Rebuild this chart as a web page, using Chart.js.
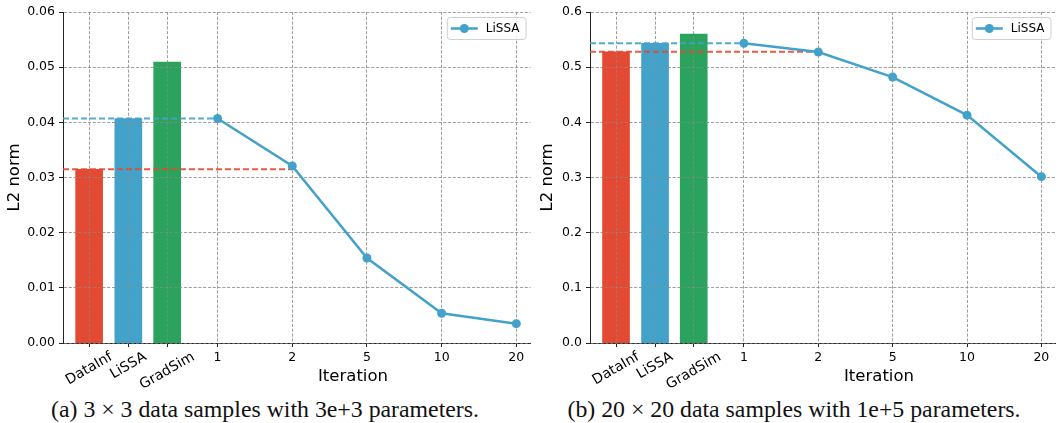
<!DOCTYPE html>
<html>
<head>
<meta charset="utf-8">
<script src="https://cdn.jsdelivr.net/npm/chart.js@4.4.1/dist/chart.umd.min.js"></script>
<style>
  body { margin: 0; background: #fff; width: 1060px; height: 423px; position: relative; overflow: hidden; }
  canvas { position: absolute; top: 0; }
  #chart-a { left: 0; }
  #chart-b { left: 535px; }
  .xlabel { position: absolute; font-family: "DejaVu Sans"; font-size: 16.5px; color: #000; transform: translateX(-50%); white-space: nowrap; }
  .caption { position: absolute; font-family: "Liberation Serif"; font-size: 23.8px; color: #111; transform: translateX(-50%); white-space: nowrap; }
</style>
</head>
<body>
<canvas id="chart-a" width="535" height="395"></canvas>
<canvas id="chart-b" width="525" height="395"></canvas>
<div class="xlabel" style="left:353px; top:366px">Iteration</div>
<div class="xlabel" style="left:879px; top:366px">Iteration</div>
<div class="caption" style="left:265px; top:396px">(a) 3 × 3 data samples with 3e+3 parameters.</div>
<div class="caption" style="left:794px; top:396px">(b) 20 × 20 data samples with 1e+5 parameters.</div>

<script>
// data
const methods = ['DataInf', 'LiSSA', 'GradSim'];
const iterations = ['1', '2', '5', '10', '20'];

const smallMethodNorms = [0.0315, 0.0407, 0.0509];
const smallLissaNorms = [0.0407, 0.0321, 0.0154, 0.0054, 0.0035];

const largeMethodNorms = [0.528, 0.5432, 0.560];
const largeLissaNorms = [0.5432, 0.5275, 0.482, 0.413, 0.3015];

// where things sit on the x axis
const barSlots = [-1.72, -1.195, -0.675];
const iterSlots = [0, 1, 2, 3, 4];
const xMin = -2.07, xMax = 4.19;

const colors = ['#e34a33', '#43a2ca', '#2ca25f'];
const lineBlue = '#43a2ca';
const gridGray = 'rgba(140,140,140,0.75)';

Chart.defaults.font.family = 'DejaVu Sans';
Chart.defaults.color = '#000';

// grid goes on top of the bars (like matplotlib), but under the lines
const gridOverBars = {
  id: 'gridOverBars',
  afterDatasetDraw(chart, args) {
    if (args.meta.type !== 'bar') return;
    ['x', 'y'].forEach(id => {
      const s = chart.scales[id];
      s.drawGrid(chart.chartArea);
      if (s.drawBorder) s.drawBorder();
    });
  }
};

// rotated labels under the three bars
const methodLabels = {
  id: 'methodLabels',
  afterDraw(chart) {
    const ctx = chart.ctx;
    const xs = chart.scales.x;
    const a = Math.PI / 6;
    ctx.save();
    ctx.font = '14px "DejaVu Sans"';
    ctx.fillStyle = '#000';
    ctx.textAlign = 'center';
    ctx.textBaseline = 'middle';
    methods.forEach((name, i) => {
      const px = xs.getPixelForValue(barSlots[i]);
      const w = ctx.measureText(name).width;
      const bh = w * Math.sin(a) + 16 * Math.cos(a);
      const top = chart.chartArea.bottom + 6;
      ctx.save();
      ctx.translate(px, top + bh / 2);
      ctx.rotate(-a);
      ctx.fillText(name, 0, 0);
      ctx.restore();
    });
    ctx.restore();
  }
};

// matplotlib-like legend box: line + marker + label
const lineLegend = {
  id: 'lineLegend',
  afterDraw(chart) {
    const ctx = chart.ctx;
    const area = chart.chartArea;
    const ds = chart.data.datasets.find(d => d.showInLegend);
    ctx.save();
    ctx.font = '12px "DejaVu Sans"';
    const tw = ctx.measureText(ds.label).width;
    const boxW = 4 + 27 + 8 + tw + 6, boxH = 22;
    const bx = area.right - 5 - boxW, by = area.top + 5;
    ctx.beginPath();
    ctx.roundRect(bx + 0.5, by + 0.5, boxW, boxH, 3);
    ctx.fillStyle = 'rgba(255,255,255,0.85)';
    ctx.fill();
    ctx.strokeStyle = '#d0d0d0';
    ctx.lineWidth = 1;
    ctx.stroke();
    const cy = by + boxH / 2 + 0.5;
    ctx.beginPath();
    ctx.moveTo(bx + 4, cy);
    ctx.lineTo(bx + 31, cy);
    ctx.strokeStyle = ds.borderColor;
    ctx.lineWidth = 2.5;
    ctx.stroke();
    ctx.beginPath();
    ctx.arc(bx + 17.5, cy, 4.5, 0, Math.PI * 2);
    ctx.fillStyle = ds.borderColor;
    ctx.fill();
    ctx.fillStyle = '#000';
    ctx.textBaseline = 'middle';
    ctx.fillText(ds.label, bx + 39, cy);
    ctx.restore();
  }
};

function makeChart(id, methodNorms, lissaNorms, cfg) {
  const canvas = document.getElementById(id);
  const allSlots = barSlots.concat(iterSlots);
  return new Chart(canvas, {
    type: 'bar',
    data: {
      datasets: [
        {
          type: 'bar',
          data: methodNorms.map((v, i) => ({ x: barSlots[i], y: v })),
          backgroundColor: colors,
          barThickness: 27,
          order: 3
        },
        {
          type: 'line',
          data: [{ x: xMin, y: methodNorms[0] }, { x: iterSlots[1], y: methodNorms[0] }],
          borderColor: 'rgba(227,74,51,0.9)',
          borderWidth: 2,
          borderDash: [6, 3],
          pointRadius: 0,
          order: 2
        },
        {
          type: 'line',
          data: [{ x: xMin, y: methodNorms[1] }, { x: iterSlots[0], y: methodNorms[1] }],
          borderColor: 'rgba(67,162,202,0.9)',
          borderWidth: 2,
          borderDash: [6, 3],
          pointRadius: 0,
          order: 2
        },
        {
          type: 'line',
          label: 'LiSSA',
          showInLegend: true,
          data: iterSlots.map((x, i) => ({ x: x, y: lissaNorms[i] })),
          borderColor: lineBlue,
          backgroundColor: lineBlue,
          borderWidth: 2.5,
          pointRadius: 4.5,
          pointBorderWidth: 0,
          pointBackgroundColor: lineBlue,
          order: 1
        }
      ]
    },
    options: {
      responsive: false,
      animation: false,
      layout: { padding: { left: 0, top: 12, right: canvas.width - cfg.areaRight, bottom: 12 } },
      plugins: { legend: { display: false }, tooltip: { enabled: false } },
      scales: {
        x: {
          type: 'linear',
          min: xMin,
          max: xMax,
          offset: false,
          afterBuildTicks: s => { s.ticks = allSlots.map(v => ({ value: v })); },
          afterFit: s => { s.height = 40; },
          ticks: {
            autoSkip: false,
            maxRotation: 0,
            padding: 3,
            font: { size: 12.5 },
            color: '#000',
            callback: (v, i) => (i < methods.length ? '' : iterations[i - methods.length])
          },
          grid: { offset: false, color: gridGray, lineWidth: 0.8, tickLength: 4, tickColor: '#222', tickWidth: 1, tickBorderDash: [] },
          border: { display: true, color: '#222', width: 1, dash: [3, 1.8] }
        },
        y: {
          min: 0,
          max: cfg.yMax,
          afterFit: s => { s.width = cfg.areaLeft; },
          ticks: {
            stepSize: cfg.yStep,
            padding: 4,
            font: { size: 12.5 },
            color: '#000',
            callback: v => v.toFixed(cfg.decimals)
          },
          title: { display: true, text: 'L2 norm', font: { size: 16.5 }, color: '#000', padding: { top: cfg.titlePad, bottom: 0 } },
          grid: { color: gridGray, lineWidth: 0.8, tickLength: 4, tickColor: '#222', tickWidth: 1, tickBorderDash: [] },
          border: { display: true, color: '#222', width: 1, dash: [3, 1.8] }
        }
      }
    },
    plugins: [gridOverBars, methodLabels, lineLegend]
  });
}

makeChart('chart-a', smallMethodNorms, smallLissaNorms, { yMax: 0.06, yStep: 0.01, decimals: 2, areaLeft: 63, areaRight: 531, titlePad: 5 });
makeChart('chart-b', largeMethodNorms, largeLissaNorms, { yMax: 0.6, yStep: 0.1, decimals: 1, areaLeft: 55, areaRight: 523, titlePad: 3 });
</script>
</body>
</html>
